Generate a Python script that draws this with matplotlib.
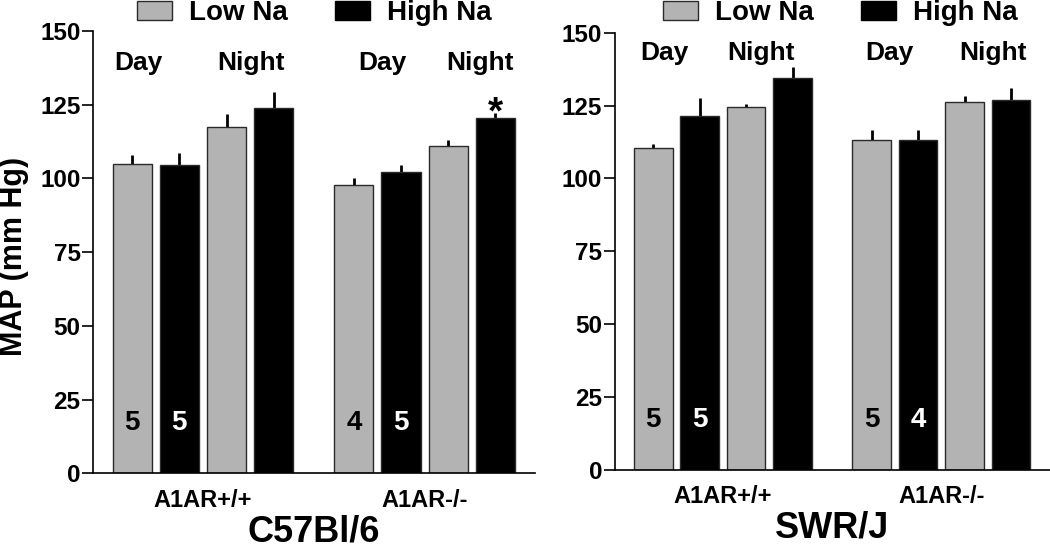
import numpy as np
import matplotlib.pyplot as plt
from matplotlib.patches import Patch

plt.rcParams['font.family'] = ['Liberation Sans', 'DejaVu Sans']
plt.rcParams['font.weight'] = 'bold'

# bar order inside a genotype group: Day Low Na, Day High Na, Night Low Na, Night High Na
genotypes = ["A1AR+/+", "A1AR-/-"]
diets = ["Low Na", "High Na"]

c57_wt_mean = [105.0, 104.5, 117.3, 123.8]
c57_wt_sem = [3.0, 4.1, 4.5, 5.4]
c57_ko_mean = [97.9, 102.3, 111.0, 120.5]
c57_ko_sem = [2.1, 2.1, 1.9, 1.8]
c57_n = [5, 5, 4, 5]          # animals, written in the day bars

swr_wt_mean = [110.3, 121.4, 124.5, 134.6]
swr_wt_sem = [1.4, 6.3, 1.2, 3.5]
swr_ko_mean = [113.3, 113.3, 126.4, 126.8]
swr_ko_sem = [3.2, 3.2, 2.0, 4.3]
swr_n = [5, 5, 5, 4]

GRAY = '#b3b3b3'
colors = [GRAY, 'black', GRAY, 'black']
xpos = np.array([0, 1, 2, 3, 4.7, 5.7, 6.7, 7.7])

fig = plt.figure(figsize=(10.5, 5.5), dpi=100)
ax1 = fig.add_axes([0.0886, 0.1395, 0.4209, 0.8041])
ax2 = fig.add_axes([0.5854, 0.1462, 0.4146, 0.7942])


def panel(ax, wt_m, wt_s, ko_m, ko_s, n, title, label_pos, label_y):
    means = np.array(wt_m + ko_m)
    sems = np.array(wt_s + ko_s)
    cols = colors + colors
    ax.bar(xpos, means, width=0.83, color=cols, edgecolor='#2a2a2a',
           linewidth=1.0, zorder=2)
    ax.errorbar(xpos, means, yerr=[np.zeros_like(sems), sems], fmt='none',
                ecolor='black', elinewidth=2.0, capsize=0, zorder=1)
    # n in the day bars
    for i, cnt in zip([0, 1, 4, 5], n):
        tc = 'black' if cols[i] == GRAY else 'white'
        ax.text(xpos[i], 17, str(cnt), ha='center', va='center',
                fontsize=20, fontweight='bold', color=tc, zorder=3)
    for x, s in zip(label_pos, ["Day", "Night", "Day", "Night"]):
        ax.text(x, label_y, s, ha='center', va='center', fontsize=19,
                fontweight='bold')
    ax.set_xlim(-0.83, 8.54)
    ax.set_ylim(0, 150)
    ax.set_yticks([0, 25, 50, 75, 100, 125, 150])
    ax.set_xticks([1.5, 6.2])
    ax.set_xticklabels(genotypes)
    ax.tick_params(axis='x', length=0, pad=11, labelsize=17)
    ax.tick_params(axis='y', length=8, width=1.2, pad=1, labelsize=17.5,
                   direction='out')
    for s in ['top', 'right']:
        ax.spines[s].set_visible(False)
    for s in ['left', 'bottom']:
        ax.spines[s].set_linewidth(1.2)
    ax.set_xlabel(title, fontsize=26, fontweight='bold', labelpad=2)
    return means, sems


panel(ax1, c57_wt_mean, c57_wt_sem, c57_ko_mean, c57_ko_sem, c57_n,
      "C57Bl/6", [0.14, 2.52, 5.31, 7.37], 139)
panel(ax2, swr_wt_mean, swr_wt_sem, swr_ko_mean, swr_ko_sem, swr_n,
      "SWR/J", [0.25, 2.33, 5.09, 7.31], 143)

# significance marker over C57 knockout, night, high Na
ax1.text(xpos[7], c57_ko_mean[3] + c57_ko_sem[3] - 3.5, "*", ha='center',
         va='baseline', fontsize=28, fontweight='bold')

ax1.set_ylabel("MAP (mm Hg)", fontsize=22, fontweight='bold')
ax1.yaxis.set_label_coords(-0.145, 0.49)

handles = [Patch(facecolor=GRAY, edgecolor='#2a2a2a', linewidth=1.0),
           Patch(facecolor='black', edgecolor='black')]
for x0 in [137 / 1050, 663 / 1050]:
    fig.legend(handles, diets, loc='center left', bbox_to_anchor=(x0, 0.976),
               ncol=2, frameon=False, handlelength=1.25,
               handleheight=0.7, handletextpad=0.62, columnspacing=1.7,
               borderpad=0, borderaxespad=0, prop={'weight': 'bold', 'size': 20})

fig.savefig("out.png", dpi=100)
